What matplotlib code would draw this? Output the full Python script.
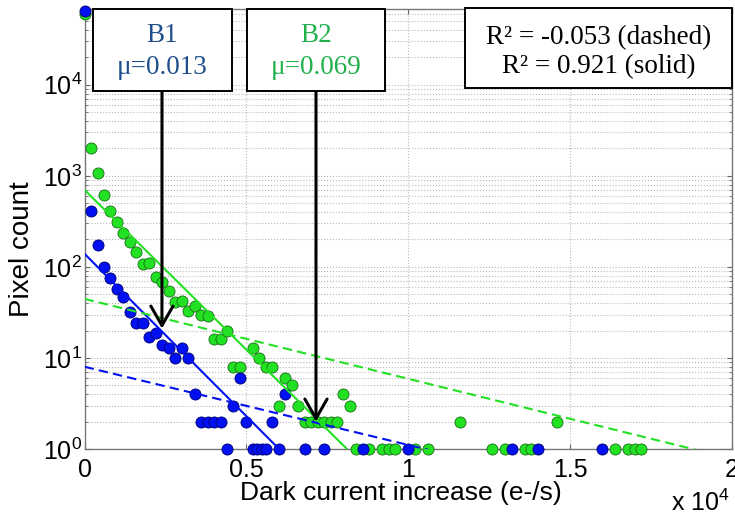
import numpy as np
import matplotlib
matplotlib.use("Agg")
import matplotlib.pyplot as plt
from matplotlib.patches import Rectangle
from matplotlib.ticker import FixedLocator, LogLocator, NullFormatter

# histogram points (x in e-/s, y = pixel count)
blue_x = [0, 200, 400, 600, 800, 1000, 1200, 1400, 1600, 1800, 2000, 2200, 2400,
          2600, 2800, 3000, 3200, 3400, 3600, 3800, 4000, 4200, 4400, 4600, 4800,
          5000, 5200, 5330, 5470, 5600, 5800, 6000, 6200, 6800, 7400, 8600, 10000,
          13200, 14000, 16000]
blue_y = [65000, 410, 174, 100, 76, 57, 47, 32, 24, 24, 17, 19, 14,
          13, 10, 13, 10, 4, 2, 2, 2, 2, 1, 3, 6,
          2, 1, 1, 1, 1, 2, 1, 4, 1, 1, 1, 1,
          1, 1, 1]

green_x = [0, 200, 400, 600, 800, 1000, 1200, 1400, 1600, 1800, 2000, 2200, 2400,
           2600, 2800, 3000, 3200, 3400, 3600, 3800, 4000, 4200, 4400, 4600, 4800,
           5200, 5400, 5600, 5800, 6000, 6200, 6400, 6600, 6800, 7000, 7200, 7400,
           7600, 7800, 8000, 8200, 8400, 8800, 9200, 9400, 9600, 10200, 10600,
           11600, 12600, 13000, 13600, 13800, 14600, 16400, 16800, 17000, 17200]
green_y = [60000, 2030, 1080, 620, 410, 310, 236, 188, 146, 108, 111, 78, 68,
           54, 41, 42, 33, 37, 30, 29, 16, 16, 20, 8, 8,
           13, 10, 8, 8, 3, 6, 5, 3, 2, 2, 2, 2,
           2, 2, 4, 3, 1, 1, 1, 1, 1, 1, 1,
           2, 1, 1, 1, 1, 2, 1, 1, 1, 1]

# exponential fits y = a * exp(b * x)
blue_solid_fit = (139.0, -8.21e-4)
blue_dashed_fit = (8.0, -1.977e-4)
green_solid_fit = (700.0, -8.08e-4)
green_dashed_fit = (44.5, -2.02e-4)

x_ticks = [0, 5000, 10000, 15000, 20000]
x_tick_labels = ["0", "0.5", "1", "1.5", "2"]

b1_tip = (2390, 21)
b2_tip = (7150, 2.0)

plt.rcParams["font.family"] = ["Liberation Sans", "DejaVu Sans"]
plt.rcParams["mathtext.fontset"] = "custom"
plt.rcParams["mathtext.rm"] = "Liberation Sans"
plt.rcParams["mathtext.default"] = "regular"

W, H = 735, 521
fig = plt.figure(figsize=(W / 100, H / 100), dpi=100)
ax = fig.add_axes([84.6 / W, 1 - 449 / H, (731.8 - 84.6) / W, (449 - 9) / H])

BLUE = "#0010f0"
GREEN = "#22e022"

ax.plot(green_x, green_y, "o", ms=8, mfc=GREEN, mec="#1b6e1b", mew=0.6, zorder=3, clip_on=False)
ax.plot(blue_x, blue_y, "o", ms=8, mfc=BLUE, mec="#000070", mew=0.6, zorder=3, clip_on=False)

xx = np.linspace(0, 20000, 400)
for (a, b), col, ls in [(blue_solid_fit, BLUE, "-"), (blue_dashed_fit, BLUE, (0, (4.5, 2.5))),
                        (green_solid_fit, GREEN, "-"), (green_dashed_fit, GREEN, (0, (4.5, 2.5)))]:
    ax.plot(xx, a * np.exp(b * xx), color=col, ls=ls, lw=1.5, zorder=4)

ax.set_yscale("log")
ax.set_xlim(0, 20000)
ax.set_ylim(1, 6.8e4)
ax.set_xticks(x_ticks)
ax.set_xticklabels(x_tick_labels)
ax.yaxis.set_major_locator(FixedLocator([1, 10, 100, 1000, 10000]))
ax.set_yticklabels([r"$10^{%d}$" % k for k in range(5)])
ax.yaxis.set_minor_locator(LogLocator(base=10, subs=np.arange(2, 10)))
ax.yaxis.set_minor_formatter(NullFormatter())

ax.grid(True, which="major", ls=":", color="#b8b8b8", lw=0.8)
ax.grid(True, which="minor", axis="y", ls=":", color="#b8b8b8", lw=0.8)
ax.tick_params(which="both", direction="in", top=True, right=True, color="#666666",
               labelsize=18)
ax.tick_params(axis="x", pad=6.5)
ax.tick_params(axis="y", pad=2)
for sp in ax.spines.values():
    sp.set_color("#777777")
    sp.set_linewidth(1.0)

fig.text(22 / W, 1 - 249 / H, "Pixel count", rotation=90, ha="center", va="center", fontsize=20)
fig.text(401 / W, 1 - 493 / H, "Dark current increase (e-/s)", ha="center", va="center", fontsize=19)
fig.text(700 / W, 1 - 503 / H, r"x $10^{4}$", ha="center", va="center", fontsize=18)


def box(x0, y0, x1, y1):
    ax.add_patch(Rectangle((x0 / W, 1 - y1 / H), (x1 - x0) / W, (y1 - y0) / H,
                           transform=fig.transFigure, clip_on=False, fc="white",
                           ec="black", lw=1.4, zorder=6))


serif = ["Liberation Serif", "DejaVu Serif"]
box(93, 9, 232, 91)
fig.text(162 / W, 1 - 36 / H, "B1", ha="center", va="center", fontsize=19.5, family=serif, color="#1f4e8c")
fig.text(162 / W, 1 - 67 / H, "μ=0.013", ha="center", va="center", fontsize=19.5, family=serif, color="#1f4e8c")
box(247, 9, 385, 91)
fig.text(316 / W, 1 - 36 / H, "B2", ha="center", va="center", fontsize=19.5, family=serif, color="#21b04b")
fig.text(316 / W, 1 - 67 / H, "μ=0.069", ha="center", va="center", fontsize=19.5, family=serif, color="#21b04b")
box(465, 8, 732, 88)
fig.text(599 / W, 1 - 38 / H, "R² = -0.053 (dashed)", ha="center", va="center", fontsize=19.5, family=serif)
fig.text(599 / W, 1 - 67 / H, "R² = 0.921 (solid)", ha="center", va="center", fontsize=19.5, family=serif)

arrow = dict(arrowstyle="->,head_length=0.7,head_width=0.4", lw=2.2, color="black",
             mutation_scale=20, shrinkA=0, shrinkB=0)
ax.annotate("", xy=b1_tip, xycoords="data", xytext=(162 / W, 1 - 91 / H),
            textcoords="figure fraction", arrowprops=arrow, zorder=5)
ax.annotate("", xy=b2_tip, xycoords="data", xytext=(316 / W, 1 - 91 / H),
            textcoords="figure fraction", arrowprops=arrow, zorder=5)

fig.savefig("out.png", dpi=100)
